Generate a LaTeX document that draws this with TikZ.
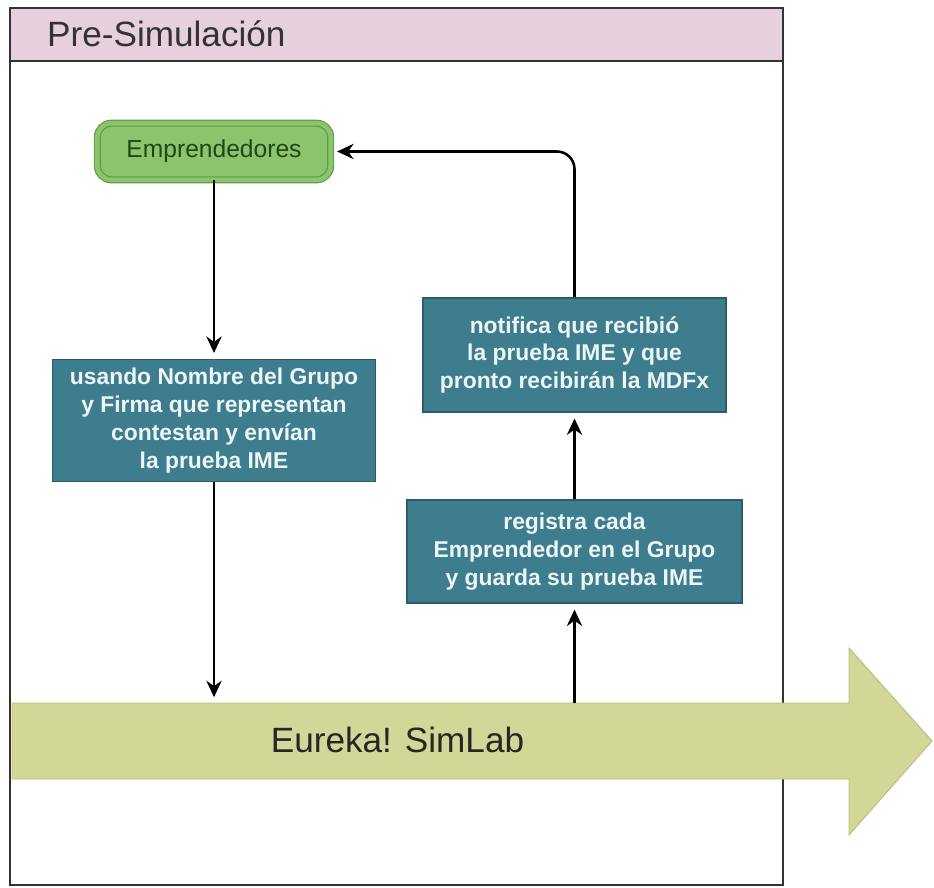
\documentclass[tikz,border=0pt]{standalone}
\usepackage{fontspec}
\setmainfont{Liberation Sans}
\usetikzlibrary{positioning, arrows.meta}
\definecolor{poolpink}{RGB}{230,208,222}
\definecolor{poolline}{RGB}{51,51,51}
\definecolor{empfill}{RGB}{138,196,107}
\definecolor{empline}{RGB}{100,152,74}
\definecolor{emptext}{RGB}{35,70,25}
\definecolor{taskfill}{RGB}{62,125,142}
\definecolor{taskline}{RGB}{42,92,106}
\definecolor{tasktext}{RGB}{236,246,248}
\definecolor{simfill}{RGB}{210,214,150}
\definecolor{simline}{RGB}{186,190,122}
\tikzset{
	x=0.03cm, y=-0.03cm,
	node distance=1cm and 1.5cm,
	every text node part/.style= {
		align=center
	},
	pool/.style= {
		draw=poolline,
		line width=1.6pt
	},
	actor/.style= {
		rectangle, rounded corners=12pt,
		draw=empline, double=empfill, double distance=4pt, line width=1pt,
		fill=empfill, text=emptext,
		font=\fontsize{21}{25}\selectfont,
		minimum width=7cm, minimum height=1.7cm
	},
	task/.style= {
		rectangle,
		draw=taskline, line width=1.2pt,
		fill=taskfill, text=tasktext,
		font=\bfseries\fontsize{19.5}{23.8}\selectfont,
		inner sep=0
	},
	simband/.style= {
		draw=simline, line width=0.8pt, fill=simfill
	},
	flow/.style= {
		-{Stealth[length=14pt, width=13pt]},
		line width=2.2pt,
		shorten >=5pt
	},
	bigtext/.style={font=\fontsize{30}{35}\selectfont, inner sep=0},
}

\begin{document}
\begin{tikzpicture}

	\useasboundingbox[fill=white] (0,0) rectangle (934,887);

	% pool
	\draw[pool, fill=white] (10,8) rectangle (783,885);
	\draw[pool, fill=poolpink] (10,8) rectangle (783,61);
	\node (poolname)[bigtext, anchor=base west, text=poolline] at (47,46) {Pre-Simulación};

	\node (emprendedores)[actor] at (214,151.5) {Emprendedores};
	\node (contesta)[task, below=5.35cm of emprendedores, minimum width=9.7cm, minimum height=3.66cm]
		{usando Nombre del Grupo\\y Firma que representan\\contestan y envían\\la prueba IME};
	\node (registra)[task, minimum width=10.05cm, minimum height=3.09cm] at (574.5,551.5)
		{registra cada\\Emprendedor en el Grupo\\y guarda su prueba IME};
	\node (notifica)[task, above=2.6cm of registra, minimum width=9.09cm, minimum height=3.42cm]
		{notifica que recibió\\la prueba IME y que\\pronto recibirán la MDFx};

	% Eureka! SimLab
	\draw[simband] (12,703) -- (849,703) -- (849,648) -- (932,741) -- (849,835) -- (849,779) -- (12,779) -- cycle;
	\node (eureka)[bigtext, anchor=base, text=black!85] at (397.5,752) {Eureka! SimLab};
	\coordinate (bandtop) at (0,703);

	\draw[flow] (emprendedores) to (contesta);
	\draw[flow] (contesta.south) to (contesta.south |- bandtop);
	\draw[flow] (registra.south |- bandtop) to (registra.south);
	\draw[flow] (registra) to (notifica);
	\draw[flow, rounded corners=15pt] (notifica.north) |- (emprendedores.east);

\end{tikzpicture}
\end{document}
